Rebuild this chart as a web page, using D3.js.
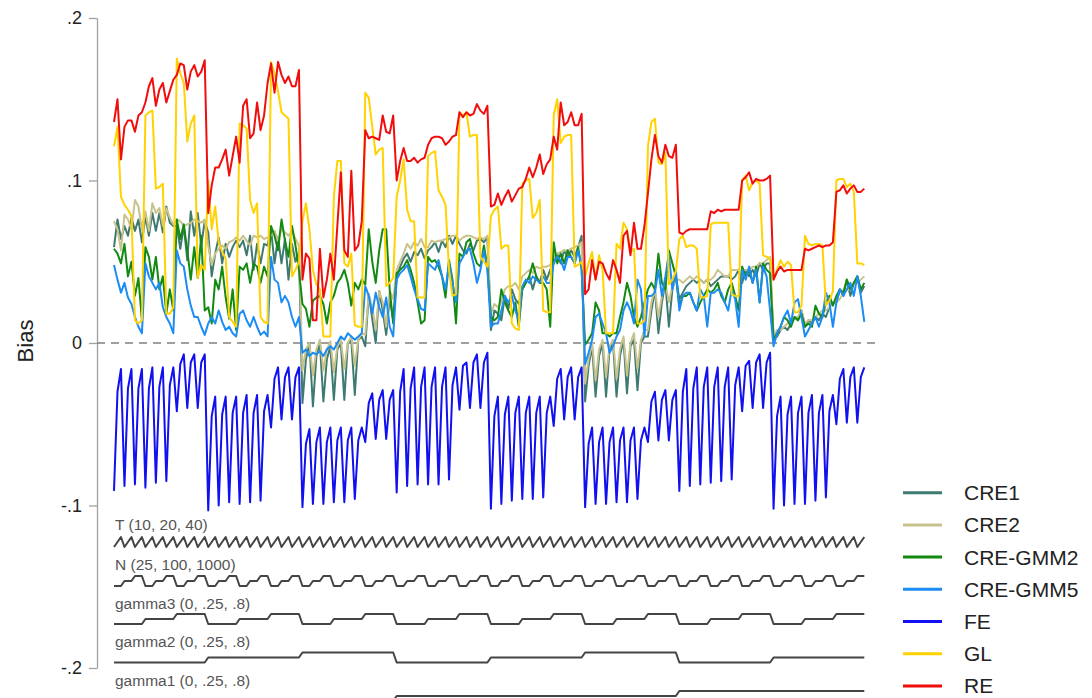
<!DOCTYPE html>
<html>
<head>
<meta charset="utf-8">
<script src="https://cdn.jsdelivr.net/npm/d3@7"></script>
<style>
  body { margin: 0; background: #fff; }
  svg text { font-family: "Liberation Sans", Arial, sans-serif; }
</style>
</head>
<body>
<svg id="chart" width="1092" height="698"></svg>
<script>
// simulation design
var tLevels = [10, 20, 40];
var nLevels = [25, 100, 1000];
var gamma3Levels = [0, .25, .8];
// gamma1, gamma2 combinations that were run (no .8/.8)
var gammaBlocks = [[0, 0], [0, .25], [0, .8], [.25, 0], [.25, .25], [.25, .8], [.8, 0], [.8, .25]];
var paramLabels = ["T (10, 20, 40)", "N (25, 100, 1000)", "gamma3 (0, .25, .8)", "gamma2 (0, .25, .8)", "gamma1 (0, .25, .8)"];
var yTicks = [.2, .1, 0, -.1, -.2];

// bias per scenario (9 scenarios per line = one gamma3 block)
var cre1 = [
  .059,.076,.064,.072,.066,.077,.069,.076,.062, .078,.066,.080,.069,.080,.068,.084,.074,.072,
  .072,.058,.072,.051,.081,.066,.080,.060,.075, .068,.041,.055,.065,.049,.061,.053,.059,.063,
  .059,.063,.054,.066,.045,.061,.049,.061,.060, .070,.049,.065,.049,.064,.039,.061,.050,.056,
  -.037,-.010,.000,-.039,-.008,.000,-.036,-.010,-.002, -.035,-.004,.000,-.035,.000,.002,-.032,.002,.004,
  -.002,.030,.015,.000,.032,.020,.005,.028,.014, .040,.047,.052,.055,.050,.056,.054,.058,.052,
  .057,.059,.062,.056,.063,.059,.066,.061,.066, .061,.057,.055,.061,.057,.063,.064,.062,.065,
  .008,.020,.018,.014,.029,.021,.033,.027,.024, .033,.037,.041,.033,.041,.037,.045,.039,.045,
  .049,.055,.049,.057,.053,.057,.053,.059,.066, -.036,-.014,-.002,-.033,-.008,.000,-.033,-.004,.000,
  -.033,-.008,.002,-.031,-.002,.002,-.029,.000,.004, .004,.020,.033,.006,.025,.037,.010,.033,.041,
  .027,.031,.035,.037,.039,.037,.039,.037,.039, .035,.037,.039,.041,.041,.041,.039,.041,.045,
  .037,.045,.041,.045,.041,.049,.045,.049,.049, .002,.004,.008,.010,.008,.012,.016,.014,.020,
  .010,.014,.012,.016,.014,.018,.016,.022,.025, .025,.033,.029,.039,.029,.037,.041,.031,.035
];
var cre2 = [
  .075,.070,.057,.079,.076,.070,.088,.084,.070, .081,.069,.086,.080,.083,.072,.083,.077,.073,
  .076,.075,.072,.073,.074,.076,.075,.074,.076, .060,.048,.055,.058,.060,.058,.062,.063,.065,
  .063,.066,.063,.060,.066,.065,.066,.064,.065, .066,.069,.063,.070,.068,.066,.069,.064,.060,
  -.017,-.004,.000,-.020,-.004,.002,-.017,-.004,.001, -.018,-.002,.002,-.016,.000,.004,-.014,.002,.006,
  .005,.030,.022,.008,.032,.025,.010,.032,.027, .045,.050,.055,.061,.058,.062,.060,.064,.059,
  .059,.063,.062,.063,.063,.064,.065,.066,.066, .063,.065,.066,.066,.065,.064,.065,.064,.066,
  .018,.024,.022,.025,.033,.035,.035,.037,.033, .041,.043,.045,.043,.047,.046,.047,.047,.048,
  .053,.055,.056,.057,.057,.058,.059,.060,.062, -.025,-.010,.000,-.023,-.004,.002,-.021,-.002,.002,
  -.022,-.004,.004,-.020,.000,.006,-.016,.002,.008, .008,.025,.033,.016,.029,.037,.025,.035,.039,
  .039,.037,.039,.041,.039,.041,.039,.037,.039, .039,.041,.045,.043,.041,.041,.045,.045,.045,
  .043,.045,.045,.047,.047,.049,.049,.051,.053, .004,.008,.008,.010,.012,.014,.016,.016,.020,
  .012,.014,.014,.016,.018,.020,.020,.022,.025, .025,.027,.031,.033,.033,.037,.037,.039,.041
];
var gmm2 = [
  .058,.055,.049,.061,.041,.050,.029,.040,.014, .059,.053,.039,.053,.033,.041,.018,.033,.020,
  .076,.064,.073,.057,.039,.059,.040,.066,.020, .022,.012,.039,.033,.047,.028,.015,.033,.008,
  .047,.045,.049,.037,.049,.047,.037,.047,.041, .072,.066,.057,.076,.063,.053,.072,.060,.045,
  .024,.021,.010,.026,.028,.029,.024,.012,.025, .029,.037,.040,.045,.037,.023,.037,.033,.039,
  .036,.070,.050,.037,.057,.070,.070,.033,.012, .043,.045,.047,.051,.045,.037,.025,.012,.014,
  .053,.050,.051,.047,.041,.028,.051,.039,.012, .055,.053,.062,.064,.055,.049,.047,.060,.047,
  .016,.014,.016,.033,.025,.020,.016,.025,.010, .033,.037,.041,.049,.041,.037,.037,.033,.010,
  .062,.049,.055,.049,.057,.053,.049,.059,.045, -.001,.002,.006,.025,.020,.006,.006,.004,.006,
  .006,.016,.025,.037,.029,.016,.010,.016,.025, .033,.037,.033,.055,.037,.033,.057,.049,.041,
  .023,.029,.029,.031,.025,.020,.025,.029,.033, .031,.033,.037,.029,.025,.033,.037,.029,.020,
  .047,.041,.045,.037,.047,.025,.049,.045,.043, .002,.006,.010,.016,.014,.010,.016,.014,.018,
  .010,.012,.010,.023,.018,.016,.025,.029,.023, .029,.033,.031,.039,.033,.037,.041,.033,.037
];
var gmm5 = [
  .048,.039,.031,.037,.028,.024,.016,.010,.006, .049,.041,.037,.033,.037,.022,.016,.012,.006,
  .057,.049,.047,.033,.023,.016,.016,.010,.005, .012,.016,.012,.020,.013,.008,.010,.006,.004,
  .018,.020,.014,.010,.016,.010,.005,.007,.004, .053,.039,.037,.025,.029,.025,.016,.010,.016,
  -.006,-.004,-.008,-.006,-.007,-.005,-.008,-.004,-.002, -.004,.000,.004,.002,.006,.004,.002,.004,.006,
  .035,.029,.018,.031,.022,.016,.028,.010,.004, .039,.043,.045,.048,.041,.033,.027,.021,.020,
  .049,.047,.045,.051,.041,.033,.049,.037,.025, .049,.053,.057,.058,.049,.037,.045,.057,.045,
  .010,.012,.012,.020,.029,.025,.029,.020,.014, .035,.039,.037,.041,.039,.037,.041,.037,.037,
  .049,.053,.051,.045,.053,.053,.049,.057,.047, -.013,-.006,.002,.016,.018,.012,.006,-.006,-.002,
  .004,.008,.020,.025,.020,.012,.039,.033,.004, .029,.029,.031,.045,.029,.041,.055,.033,.045,
  .020,.029,.031,.031,.025,.020,.033,.029,.010, .031,.031,.033,.031,.025,.020,.033,.027,.010,
  .045,.039,.047,.037,.045,.025,.047,.041,.020, -.002,.006,.010,.016,.020,.012,.025,.027,.016,
  .004,.008,.012,.016,.010,.016,.031,.025,.010, .025,.033,.029,.033,.037,.029,.041,.029,.013
];
var fe = [
  -.091,-.030,-.016,-.088,-.028,-.016,-.087,-.028,-.016, -.089,-.028,-.015,-.086,-.027,-.015,-.085,-.026,-.015,
  -.042,-.013,-.007,-.040,-.012,-.007,-.040,-.012,-.007, -.103,-.045,-.033,-.100,-.044,-.033,-.098,-.043,-.033,
  -.099,-.043,-.032,-.098,-.043,-.032,-.097,-.042,-.032, -.052,-.022,-.015,-.047,-.021,-.015,-.047,-.021,-.015,
  -.101,-.062,-.053,-.099,-.061,-.052,-.099,-.061,-.052, -.098,-.060,-.052,-.098,-.060,-.052,-.096,-.060,-.052,
  -.061,-.037,-.031,-.059,-.035,-.029,-.059,-.035,-.029, -.092,-.030,-.016,-.088,-.028,-.015,-.087,-.027,-.015,
  -.087,-.027,-.015,-.087,-.027,-.015,-.084,-.026,-.015, -.041,-.014,-.012,-.040,-.012,-.007,-.040,-.012,-.006,
  -.102,-.045,-.033,-.099,-.044,-.033,-.097,-.043,-.033, -.096,-.043,-.033,-.096,-.043,-.033,-.095,-.043,-.033,
  -.051,-.022,-.016,-.047,-.021,-.015,-.047,-.021,-.015, -.101,-.062,-.052,-.099,-.061,-.052,-.099,-.061,-.052,
  -.098,-.060,-.052,-.098,-.060,-.052,-.096,-.060,-.052, -.061,-.036,-.030,-.060,-.035,-.029,-.060,-.035,-.029,
  -.091,-.030,-.016,-.088,-.028,-.015,-.087,-.027,-.015, -.086,-.027,-.015,-.085,-.027,-.015,-.084,-.026,-.015,
  -.042,-.014,-.011,-.040,-.012,-.007,-.040,-.012,-.006, -.102,-.045,-.033,-.100,-.044,-.033,-.099,-.043,-.033,
  -.099,-.043,-.032,-.097,-.043,-.032,-.095,-.042,-.032, -.050,-.022,-.016,-.049,-.021,-.015,-.049,-.021,-.015
];
var gl = [
  .121,.133,.090,.085,.082,.078,.014,.012,.014, .140,.142,.143,.095,.096,.098,.018,.018,.022,
  .175,.166,.160,.124,.135,.140,.040,.048,.045, .100,.070,.084,.062,.056,.052,.016,.013,.010,
  .135,.134,.132,.088,.080,.086,.016,.013,.012, .173,.166,.155,.142,.140,.138,.041,.045,.050,
  .075,.086,.070,.045,.036,.033,.004,.004,.004, .090,.112,.112,.049,.047,.055,.011,.010,.010,
  .154,.151,.133,.116,.119,.120,.035,.037,.040, .090,.100,.113,.082,.075,.075,.028,.028,.028,
  .115,.117,.118,.094,.090,.085,.045,.029,.030, .142,.140,.142,.127,.128,.128,.053,.050,.047,
  .078,.082,.084,.058,.060,.060,.012,.009,.008, .098,.100,.101,.077,.080,.088,.020,.019,.019,
  .140,.150,.123,.127,.128,.128,.047,.048,.050, .041,.049,.056,.039,.054,.045,.006,.006,.006,
  .061,.058,.074,.070,.056,.058,.012,.012,.014, .121,.136,.138,.111,.110,.117,.036,.039,.044,
  .064,.066,.059,.060,.060,.058,.028,.028,.029, .073,.074,.074,.074,.074,.074,.030,.029,.029,
  .100,.103,.094,.099,.100,.098,.054,.053,.052, .039,.045,.051,.047,.050,.048,.019,.019,.023,
  .066,.061,.060,.061,.061,.060,.023,.026,.032, .100,.101,.101,.096,.098,.093,.049,.049,.048
];
var re = [
  .136,.150,.113,.133,.137,.137,.130,.140,.142, .148,.158,.163,.146,.156,.160,.148,.155,.162,
  .165,.172,.171,.156,.167,.171,.164,.167,.174, .080,.097,.108,.108,.113,.119,.103,.115,.127,
  .111,.146,.150,.126,.129,.148,.131,.140,.160, .172,.154,.173,.165,.160,.164,.158,.158,.168,
  .039,.055,.052,.014,.014,.058,.028,.039,.055, .039,.072,.105,.057,.053,.106,.057,.060,.075,
  .131,.126,.127,.126,.125,.140,.130,.129,.140, .100,.112,.120,.112,.112,.114,.111,.113,.114,
  .122,.126,.127,.127,.126,.122,.124,.127,.128, .142,.139,.142,.140,.141,.147,.143,.141,.146,
  .084,.085,.092,.085,.090,.094,.087,.091,.095, .096,.101,.108,.102,.108,.116,.104,.110,.113,
  .127,.119,.148,.134,.136,.142,.134,.134,.141, .030,.033,.051,.039,.050,.049,.043,.039,.051,
  .045,.037,.066,.069,.054,.074,.058,.058,.072, .092,.113,.128,.115,.111,.122,.115,.114,.122,
  .068,.067,.069,.070,.070,.070,.070,.070,.070, .081,.080,.082,.081,.082,.082,.082,.082,.082,
  .100,.102,.105,.098,.101,.100,.100,.101,.103, .039,.044,.047,.044,.045,.045,.045,.045,.045,
  .058,.057,.058,.059,.060,.059,.060,.060,.062, .093,.094,.097,.092,.095,.097,.093,.093,.095
];

var series = [
  { name: "CRE1", values: cre1, color: "#3f7a70" },
  { name: "CRE2", values: cre2, color: "#c8c28c" },
  { name: "CRE-GMM2", values: gmm2, color: "#128a12" },
  { name: "CRE-GMM5", values: gmm5, color: "#1c8cf5" },
  { name: "FE", values: fe, color: "#1010f0" },
  { name: "GL", values: gl, color: "#ffd200" },
  { name: "RE", values: re, color: "#f20d0d" }
];

// scenario table in plotting order
var scenarios = [];
gammaBlocks.forEach(function (gb) {
  gamma3Levels.forEach(function (g3) {
    nLevels.forEach(function (n) {
      tLevels.forEach(function (t) {
        scenarios.push({ gamma1: gb[0], gamma2: gb[1], gamma3: g3, N: n, T: t });
      });
    });
  });
});

var svg = d3.select("#chart");

var x = d3.scaleLinear().domain([0, scenarios.length - 1]).range([114, 864.3]);
var y = d3.scaleLinear().domain([-0.2, 0.2]).range([668, 18]);

// y axis, Stata style labels (.2, -.1)
var fmt = function (d) { return d === 0 ? "0" : String(d).replace("0.", "."); };
var gAxis = svg.append("g")
  .attr("transform", "translate(97,0)")
  .call(d3.axisLeft(y).tickValues(yTicks).tickSize(8).tickSizeOuter(0).tickPadding(7).tickFormat(fmt));
gAxis.select(".domain").attr("stroke", "#a0a0a0").attr("stroke-width", 1.3);
gAxis.selectAll(".tick line").attr("stroke", "#a0a0a0").attr("stroke-width", 1.3);
gAxis.selectAll(".tick text").attr("fill", "#222").style("font-size", "18px");

svg.append("text")
  .attr("transform", "translate(33,341) rotate(-90)")
  .attr("text-anchor", "middle")
  .style("font-size", "22px")
  .attr("fill", "#222")
  .text("Bias");

// zero reference
svg.append("line")
  .attr("x1", 97).attr("x2", 880)
  .attr("y1", y(0)).attr("y2", y(0))
  .attr("stroke", "#808080").attr("stroke-width", 1.6)
  .attr("stroke-dasharray", "8,6");

// estimator lines
var line = d3.line()
  .x(function (d, i) { return x(i); })
  .y(function (d) { return y(d); });

svg.append("g").selectAll("path")
  .data(series)
  .enter().append("path")
  .attr("d", function (d) { return line(d.values); })
  .attr("fill", "none")
  .attr("stroke", function (d) { return d.color; })
  .attr("stroke-width", 2)
  .attr("stroke-linejoin", "round");

// nested loop step lines for the design parameters
var params = [
  { key: "T", levels: tLevels, bottom: 547, labelY: 530 },
  { key: "N", levels: nLevels, bottom: 586, labelY: 570 },
  { key: "gamma3", levels: gamma3Levels, bottom: 624, labelY: 609 },
  { key: "gamma2", levels: gamma3Levels, bottom: 662.5, labelY: 647 },
  { key: "gamma1", levels: gamma3Levels, bottom: 701, labelY: 686 }
];

params.forEach(function (p, k) {
  var band = d3.scalePoint().domain(p.levels).range([p.bottom, p.bottom - 10]);
  var stepLine = d3.line()
    .x(function (d, i) { return x(i); })
    .y(function (d) { return band(d[p.key]); });
  svg.append("path")
    .attr("d", stepLine(scenarios))
    .attr("fill", "none")
    .attr("stroke", "#444")
    .attr("stroke-width", 2)
    .attr("stroke-linejoin", "round");
  svg.append("text")
    .attr("x", 115).attr("y", p.labelY)
    .style("font-size", "15.5px")
    .attr("fill", "#555")
    .text(paramLabels[k]);
});

// legend
var legend = svg.append("g").selectAll("g")
  .data(series)
  .enter().append("g")
  .attr("transform", function (d, i) { return "translate(0," + (492.7 + i * 32.2) + ")"; });
legend.append("line")
  .attr("x1", 903).attr("x2", 942)
  .attr("stroke", function (d) { return d.color; })
  .attr("stroke-width", 3);
legend.append("text")
  .attr("x", 964).attr("dy", "0.36em")
  .style("font-size", "21px")
  .attr("fill", "#222")
  .text(function (d) { return d.name; });
</script>
</body>
</html>
